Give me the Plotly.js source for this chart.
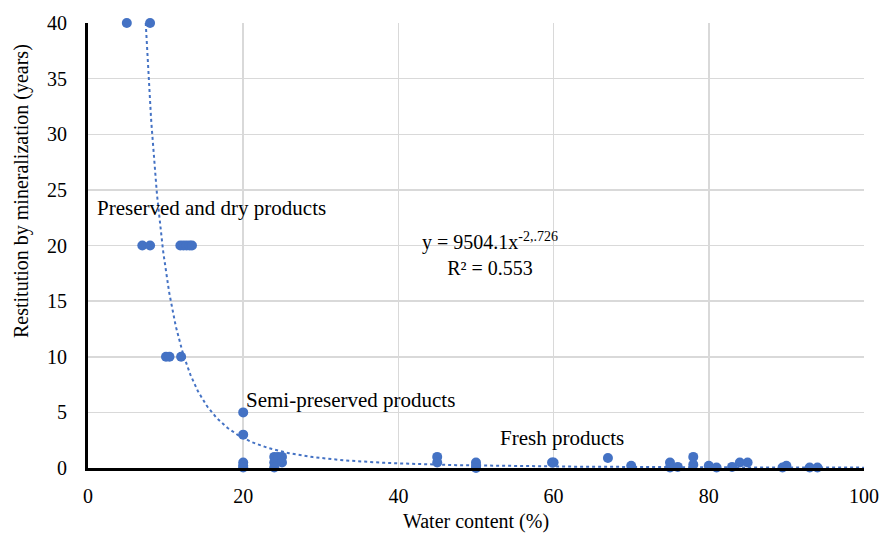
<!DOCTYPE html>
<html>
<head>
<meta charset="utf-8">
<script src="https://cdn.plot.ly/plotly-3.0.1.min.js"></script>
<style>html,body{margin:0;padding:0;background:#fff;}#chart{width:882px;height:533px;}</style>
</head>
<body>
<div id="chart"></div>
<script>
// Observed points: water content (%) and restitution (years)
const waterContent = [5, 8, 7, 8, 11.9, 12.3, 12.7, 13.1, 13.4, 10.05, 10.5, 12,
  20, 20, 20, 20, 20, 24, 24, 24, 24.5, 25, 25,
  45, 45, 50, 50, 50, 59.8, 60, 67, 70, 75, 75, 76, 78, 78, 80, 81, 83, 84, 85, 89.5, 90, 93, 94];
const restitution = [40, 40, 20, 20, 20, 20, 20, 20, 20, 10, 10, 10,
  5, 3, 0.5, 0.2, 0.05, 1, 0.5, 0.05, 1, 1, 0.5,
  1, 0.5, 0.5, 0.2, 0.0, 0.5, 0.5, 0.9, 0.2, 0.5, 0.05, 0.1, 1, 0.3, 0.2, 0.05, 0.1, 0.5, 0.5, 0.05, 0.2, 0.05, 0.05];

// Power trendline shown on the chart: y = a * x^b
const trendA = 9504.1;
const trendB = -2.726;
const trendXStart = 7.44;
const trendXEnd = 100;

const xTicks = [0, 20, 40, 60, 80, 100];
const yTicks = [0, 5, 10, 15, 20, 25, 30, 35, 40];

const labels = [
  {text: 'Preserved and dry products', x: 0.9, y: 23.4},
  {text: 'Semi-preserved products', x: 20.1, y: 6.1},
  {text: 'Fresh products', x: 52.8, y: 2.7}
];
const equationText = 'y = 9504.1x<sup>-2,.726</sup><br>R² = 0.553';
const xTitle = 'Water content (%)';
const yTitle = 'Restitution by mineralization (years)';

const tx = [], ty = [];
const steps = 300;
for (let i = 0; i <= steps; i++) {
  const x = trendXStart * Math.pow(trendXEnd / trendXStart, i / steps);
  tx.push(x);
  ty.push(trendA * Math.pow(x, trendB));
}

const blue = '#4472C4';
const font = "'Liberation Serif', 'Times New Roman', serif";

const traces = [
  {x: tx, y: ty, mode: 'lines', type: 'scatter', line: {color: blue, width: 2, dash: 'dot'}, hoverinfo: 'skip'},
  {x: waterContent, y: restitution, mode: 'markers', type: 'scatter', marker: {color: blue, size: 10}, cliponaxis: false}
];

const annotations = labels.map(l => ({
  text: l.text, x: l.x, y: l.y, xref: 'x', yref: 'y', xanchor: 'left', yanchor: 'middle',
  showarrow: false, font: {family: font, size: 21, color: '#000'}
}));
annotations.push({
  text: equationText, x: 51.8, y: 19.24, xref: 'x', yref: 'y', xanchor: 'center', yanchor: 'middle',
  align: 'center', showarrow: false, font: {family: font, size: 20, color: '#000'}
});
annotations.push({
  text: yTitle, xref: 'paper', yref: 'paper',
  x: (22 - 88) / (882 - 88 - 18), y: (468 - 191) / (468 - 23),
  xanchor: 'center', yanchor: 'middle',
  showarrow: false, textangle: -90, font: {family: font, size: 20, color: '#000'}
});

const layout = {
  width: 882, height: 533,
  margin: {l: 88, r: 18, t: 23, b: 65},
  paper_bgcolor: '#fff', plot_bgcolor: '#fff',
  showlegend: false,
  font: {family: font, size: 20, color: '#000'},
  xaxis: {
    range: [0, 100], tickvals: xTicks, ticktext: xTicks.map(String),
    showgrid: true, gridcolor: '#d9d9d9', gridwidth: 1.5,
    zeroline: false, showline: true, linecolor: '#000', linewidth: 3,
    ticks: '', ticklabelstandoff: 8,
    tickfont: {family: font, size: 20, color: '#000'},
    title: {text: xTitle, font: {family: font, size: 20, color: '#000'}, standoff: 12}
  },
  yaxis: {
    range: [0, 40], tickvals: yTicks, ticktext: yTicks.map(String),
    showgrid: true, gridcolor: '#d9d9d9', gridwidth: 1.5,
    zeroline: false, showline: true, linecolor: '#000', linewidth: 3,
    ticks: '', ticklabelstandoff: 14,
    tickfont: {family: font, size: 20, color: '#000'}
  },
  annotations: annotations
};

Plotly.newPlot('chart', traces, layout, {displayModeBar: false, staticPlot: true});
</script>
</body>
</html>
